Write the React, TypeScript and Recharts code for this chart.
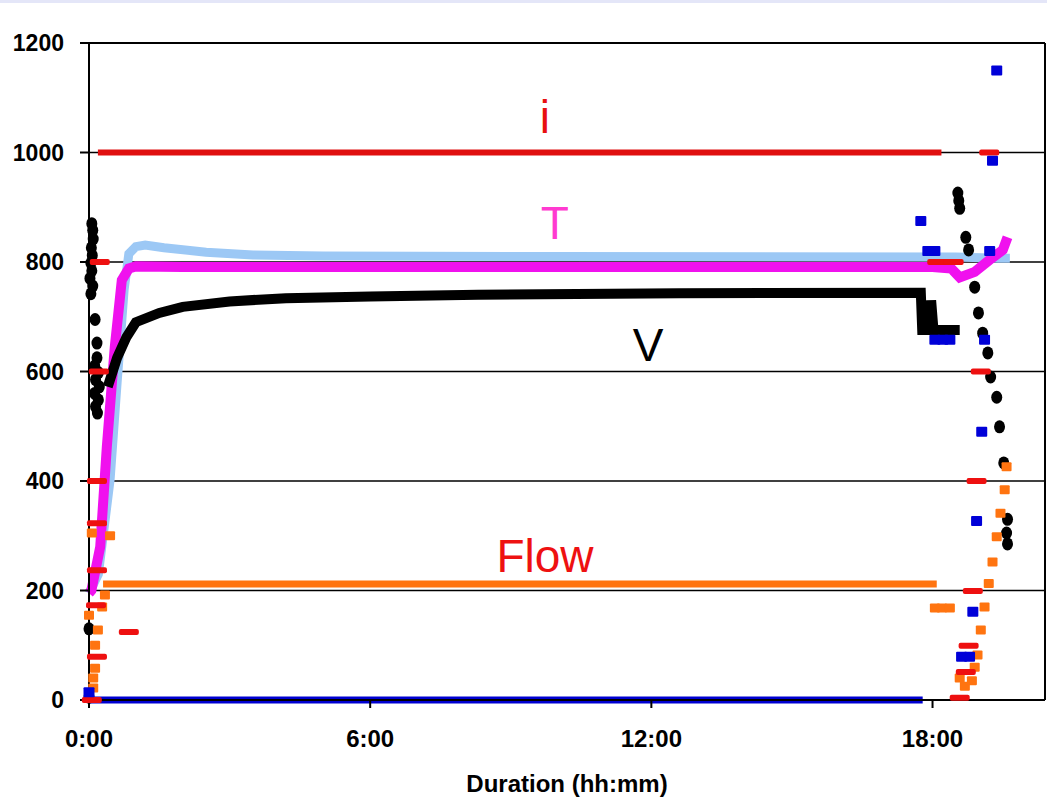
import {
  ComposedChart,
  Line,
  Scatter,
  XAxis,
  YAxis,
  CartesianGrid,
  ReferenceLine,
  ReferenceDot,
} from 'recharts';

// x = duration in hours, v = reading
const xTicks = [0, 6, 12, 18];
const yTicks = [0, 200, 400, 600, 800, 1000, 1200];

const currentLine = [{ h: 0.19, v: 1000 }, { h: 18.19, v: 1000 }];
const currentDots = [
  { h: 0.23, v: 800 }, { h: 0.21, v: 600 }, { h: 0.17, v: 400 }, { h: 0.17, v: 323 },
  { h: 0.17, v: 237 }, { h: 0.15, v: 173 }, { h: 0.85, v: 124 }, { h: 0.17, v: 79 },
  { h: 0.06, v: 0 },
  { h: 18.1, v: 800 }, { h: 18.45, v: 800 }, { h: 19.21, v: 1000 }, { h: 19.03, v: 600 },
  { h: 18.94, v: 400 }, { h: 18.86, v: 199 }, { h: 18.77, v: 99 }, { h: 18.71, v: 51 },
  { h: 18.58, v: 4 },
];

const tempT = [
  { h: 0.0, v: 195 }, { h: 0.05, v: 200 }, { h: 0.24, v: 280 }, { h: 0.38, v: 462 },
  { h: 0.55, v: 645 }, { h: 0.7, v: 767 }, { h: 0.85, v: 788 }, { h: 1.0, v: 792 },
  { h: 2, v: 791 }, { h: 18.0, v: 791 }, { h: 18.4, v: 788 }, { h: 18.58, v: 772 },
  { h: 18.9, v: 782 }, { h: 19.22, v: 804 }, { h: 19.5, v: 822 }, { h: 19.6, v: 845 },
];

const tempB = [
  { h: 0.0, v: 195 }, { h: 0.2, v: 230 }, { h: 0.45, v: 402 }, { h: 0.6, v: 580 },
  { h: 0.75, v: 750 }, { h: 0.85, v: 815 }, { h: 1.0, v: 828 }, { h: 1.2, v: 831 },
  { h: 1.6, v: 826 }, { h: 2.5, v: 818 }, { h: 3.5, v: 813 }, { h: 5, v: 811 },
  { h: 10, v: 810 }, { h: 18.5, v: 809 }, { h: 19.4, v: 807 }, { h: 19.65, v: 807 },
];

const voltLine = [
  { h: 0.4, v: 572 }, { h: 0.6, v: 625 }, { h: 0.8, v: 663 }, { h: 1.0, v: 690 },
  { h: 1.5, v: 707 }, { h: 2.0, v: 718 }, { h: 3.0, v: 728 }, { h: 4.2, v: 734 },
  { h: 6, v: 737 }, { h: 8.3, v: 740 }, { h: 12.6, v: 743 }, { h: 17.75, v: 744 },
  { h: 17.78, v: 676 }, { h: 17.95, v: 676 }, { h: 17.97, v: 730 }, { h: 18.02, v: 676 },
  { h: 18.58, v: 676 },
];
const voltDots = [
  { h: 0.06, v: 870 }, { h: 0.08, v: 858 }, { h: 0.09, v: 842 }, { h: 0.05, v: 826 },
  { h: 0.07, v: 812 }, { h: 0.04, v: 798 }, { h: 0.06, v: 784 }, { h: 0.02, v: 770 },
  { h: 0.08, v: 756 }, { h: 0.04, v: 742 }, { h: 0.13, v: 695 }, { h: 0.17, v: 652 },
  { h: 0.17, v: 625 }, { h: 0.12, v: 610 }, { h: 0.2, v: 598 }, { h: 0.14, v: 585 },
  { h: 0.22, v: 572 }, { h: 0.12, v: 560 }, { h: 0.2, v: 548 }, { h: 0.14, v: 536 },
  { h: 0.18, v: 524 }, { h: 0.0, v: 130 }, { h: 0.0, v: 5 },
  { h: 18.54, v: 926 }, { h: 18.56, v: 912 }, { h: 18.58, v: 898 }, { h: 18.71, v: 845 },
  { h: 18.77, v: 822 }, { h: 18.9, v: 754 }, { h: 18.98, v: 707 }, { h: 19.07, v: 670 },
  { h: 19.18, v: 634 }, { h: 19.24, v: 590 }, { h: 19.37, v: 553 }, { h: 19.43, v: 499 },
  { h: 19.52, v: 433 }, { h: 19.6, v: 330 }, { h: 19.58, v: 305 }, { h: 19.6, v: 285 },
];

const flowLine = [{ h: 0.3, v: 212 }, { h: 18.09, v: 212 }];
const flowDots = [
  { h: 0.06, v: 305 }, { h: 0.45, v: 300 }, { h: 0.34, v: 192 }, { h: 0.28, v: 170 },
  { h: 0.19, v: 128 }, { h: 0.13, v: 100 }, { h: 0.13, v: 58 }, { h: 0.09, v: 40 },
  { h: 0.0, v: 155 }, { h: 0.09, v: 22 },
  { h: 19.58, v: 426 }, { h: 19.54, v: 384 }, { h: 19.45, v: 341 }, { h: 19.37, v: 298 },
  { h: 19.28, v: 252 }, { h: 19.2, v: 213 }, { h: 19.11, v: 170 }, { h: 19.03, v: 128 },
  { h: 18.96, v: 82 }, { h: 18.9, v: 60 }, { h: 18.58, v: 40 }, { h: 18.69, v: 25 },
  { h: 18.84, v: 35 }, { h: 18.05, v: 168 }, { h: 18.2, v: 168 }, { h: 18.37, v: 168 },
];

const blueLine = [{ h: 0.0, v: 0 }, { h: 17.79, v: 0 }];
const blueDots = [
  { h: 0.0, v: 14 },
  { h: 19.37, v: 1150 }, { h: 19.28, v: 985 }, { h: 17.75, v: 875 }, { h: 17.9, v: 820 },
  { h: 18.05, v: 820 }, { h: 19.22, v: 820 }, { h: 18.05, v: 658 }, { h: 18.22, v: 658 },
  { h: 18.37, v: 658 }, { h: 19.11, v: 658 }, { h: 19.05, v: 490 }, { h: 18.94, v: 327 },
  { h: 18.86, v: 161 }, { h: 18.62, v: 79 }, { h: 18.79, v: 79 },
];

const notes = [
  { h: 9.73, v: 1036, text: 'i', color: '#e81010' },
  { h: 9.94, v: 842, text: 'T', color: '#ff3ad0' },
  { h: 11.93, v: 619, text: 'V', color: '#000000' },
  { h: 9.73, v: 234, text: 'Flow', color: '#ee1111' },
];

const FONT = '"Liberation Sans", Arial, sans-serif';

const dash = (color: string) => (p: any) => (
  <rect x={p.cx - 10} y={p.cy - 3} width={20} height={6} rx={2} fill={color} />
);
const square = (color: string, w: number, hgt: number) => (p: any) => (
  <rect x={p.cx - w / 2} y={p.cy - hgt / 2} width={w} height={hgt} rx={1} fill={color} />
);
const circle = (color: string) => (p: any) => (
  <ellipse cx={p.cx} cy={p.cy} rx={5.5} ry={6.5} fill={color} />
);

export default function App() {
  return (
    <div style={{ position: 'absolute', left: 0, top: 0, width: 1047, height: 804, background: '#fff' }}>
      <div style={{ position: 'absolute', left: 0, top: 0, width: 1047, height: 3, background: '#e4e6f8' }} />
      <ComposedChart width={1047} height={804} margin={{ top: 43, right: 2, bottom: 4, left: 0 }}>
        <CartesianGrid vertical={false} stroke="#000" strokeWidth={1.5} />
        <XAxis
          type="number"
          dataKey="h"
          domain={[0, 20.4]}
          ticks={xTicks}
          tickFormatter={(h: number) => `${h}:00`}
          tick={{ fill: '#000', fontSize: 24, fontWeight: 'bold', fontFamily: FONT }}
          tickSize={8}
          tickMargin={22}
          height={100}
          axisLine={{ stroke: '#000', strokeWidth: 2 }}
          tickLine={{ stroke: '#000', strokeWidth: 2 }}
          label={{
            value: 'Duration (hh:mm)',
            position: 'insideBottom',
            offset: 8,
            fill: '#000',
            fontSize: 24,
            fontWeight: 'bold',
            fontFamily: FONT,
          }}
        />
        <YAxis
          type="number"
          dataKey="v"
          domain={[0, 1200]}
          ticks={yTicks}
          width={89}
          tick={{ fill: '#000', fontSize: 23, fontWeight: 'bold', fontFamily: FONT }}
          tickSize={9}
          tickMargin={16}
          axisLine={{ stroke: '#000', strokeWidth: 2 }}
          tickLine={{ stroke: '#000', strokeWidth: 2 }}
        />
        <ReferenceLine y={1200} stroke="#000" strokeWidth={2} />
        <ReferenceLine x={20.4} stroke="#000" strokeWidth={2} />

        <Line data={tempB} dataKey="v" stroke="#9cc8f5" strokeWidth={9} dot={false} isAnimationActive={false} />
        <Line data={tempT} dataKey="v" stroke="#f011ee" strokeWidth={10} dot={false} isAnimationActive={false} />
        <Line data={voltLine} dataKey="v" stroke="#000" strokeWidth={10} dot={false} isAnimationActive={false} />
        <Scatter data={voltDots} dataKey="v" shape={circle('#000')} isAnimationActive={false} />
        <Line data={flowLine} dataKey="v" stroke="#ff7410" strokeWidth={7} dot={false} isAnimationActive={false} />
        <Scatter data={flowDots} dataKey="v" shape={square('#ff7410', 10, 9)} isAnimationActive={false} />
        <Line data={currentLine} dataKey="v" stroke="#e01010" strokeWidth={6} dot={false} isAnimationActive={false} />
        <Scatter data={currentDots} dataKey="v" shape={dash('#ee1010')} isAnimationActive={false} />
        <Line data={blueLine} dataKey="v" stroke="#0000d0" strokeWidth={7} dot={false} isAnimationActive={false} />
        <Scatter data={blueDots} dataKey="v" shape={square('#0000d8', 11, 10)} isAnimationActive={false} />

        {notes.map((n) => (
          <ReferenceDot
            key={n.text}
            x={n.h}
            y={n.v}
            r={0}
            shape={(p: any) => (
              <text x={p.cx} y={p.cy} textAnchor="middle" fill={n.color} fontSize={46} fontFamily={FONT}>
                {n.text}
              </text>
            )}
          />
        ))}
      </ComposedChart>
    </div>
  );
}
